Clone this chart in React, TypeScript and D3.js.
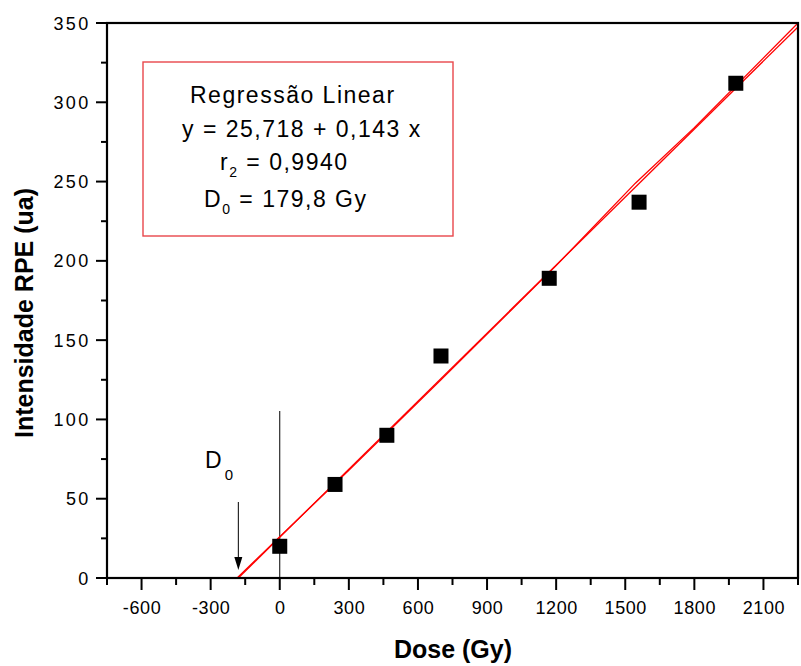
import React from "react";
import * as d3 from "d3";

const doses = [0, 240, 465, 700, 1170, 1560, 1980];
const intensities = [20, 59, 90, 140, 189, 237, 312];
const fitIntercept = 25.718;
const fitSlope = 0.143;
const fitStart = -179.8;
const fitEnd = 2250;
const traceX = [-185, 0, 300, 700, 1200, 1544, 1800, 2250];
const traceY = [0, 26, 68, 125, 197, 249, 284, 350];
const xTicksMajor = [-600, -300, 0, 300, 600, 900, 1200, 1500, 1800, 2100];
const xTickLabels = ["-600", "-300", "0", "300", "600", "900", "1200", "1500", "1800", "2100"];
const yTicksMajor = [0, 50, 100, 150, 200, 250, 300, 350];
const boxLines = ["Regressão Linear", "y = 25,718 + 0,143 x", "r", "D"];

const W = 801, H = 666;
const M = { left: 107, right: 798, top: 23, bottom: 578 };
const FONT = "'Liberation Sans', Arial, sans-serif";

export default function App() {
  const x = d3.scaleLinear().domain([-750, 2250]).range([M.left, M.right]);
  const y = d3.scaleLinear().domain([0, 350]).range([M.bottom, M.top]);
  const xMinor = d3.range(-750, 2251, 150).filter((v) => !xTicksMajor.includes(v));
  const yMinor = d3.range(25, 350, 50);
  const line = d3.line<[number, number]>().x((d) => x(d[0])).y((d) => y(d[1]));
  const fit: [number, number][] = [
    [fitStart, fitIntercept + fitSlope * fitStart],
    [fitEnd, fitIntercept + fitSlope * fitEnd],
  ];
  const trace: [number, number][] = traceX.map((v, i) => [v, traceY[i]]);
  const sq = 15;
  const d0x = x(fitStart);

  return (
    <svg width={W} height={H} style={{ position: "absolute", left: 0, top: 0, background: "#fff" }} fontFamily={FONT}>
      <rect x={0} y={0} width={W} height={H} fill="#fff" />
      {/* legend box */}
      <rect x={143} y={62} width={310} height={174} fill="none" stroke="#e8474b" strokeWidth={1.4} />
      <g fontSize={23} letterSpacing={1.5}>
        <text x={190} y={103}>{boxLines[0]}</text>
        <text x={182} y={137}>{boxLines[1]}</text>
        <text x={220} y={170}>
          {boxLines[2]}
          <tspan fontSize={14} dy={7}>2</tspan>
          <tspan dy={-7}> = 0,9940</tspan>
        </text>
        <text x={204} y={207}>
          {boxLines[3]}
          <tspan fontSize={14} dy={7}>0</tspan>
          <tspan dy={-7}> = 179,8 Gy</tspan>
        </text>
      </g>

      {/* vertical line at x=0 */}
      <line x1={x(0)} x2={x(0)} y1={411} y2={M.bottom} stroke="#000" strokeWidth={1} />
      {/* D0 arrow */}
      <line x1={d0x} x2={d0x} y1={502} y2={560} stroke="#000" strokeWidth={1} />
      <path d={`M${d0x - 4},${557} L${d0x + 4},${557} L${d0x},${570} Z`} fill="#000" />
      <text x={205} y={468} fontSize={23}>
        D<tspan fontSize={15} dx={3} dy={12}>0</tspan>
      </text>

      {/* fit lines */}
      <path d={line(trace) || ""} fill="none" stroke="#ff0000" strokeWidth={1.3} />
      <path d={line(fit) || ""} fill="none" stroke="#ff0000" strokeWidth={1.3} />

      {/* points */}
      {doses.map((d, i) => (
        <rect key={i} x={x(d) - sq / 2} y={y(intensities[i]) - sq / 2} width={sq} height={sq} fill="#000" />
      ))}

      {/* frame */}
      <rect x={M.left} y={M.top} width={M.right - M.left} height={M.bottom - M.top} fill="none" stroke="#000" strokeWidth={2.2} />

      {/* x ticks */}
      {xTicksMajor.map((v, i) => (
        <g key={"xt" + v}>
          <line x1={x(v)} x2={x(v)} y1={M.bottom} y2={M.bottom + 12} stroke="#000" strokeWidth={2} />
          <text x={x(v) + 0.5} y={614} fontSize={18} letterSpacing={0.6} textAnchor="middle">{xTickLabels[i]}</text>
        </g>
      ))}
      {xMinor.map((v) => (
        <line key={"xm" + v} x1={x(v)} x2={x(v)} y1={M.bottom} y2={M.bottom + 7} stroke="#000" strokeWidth={2} />
      ))}
      {/* y ticks */}
      {yTicksMajor.map((v) => (
        <g key={"yt" + v}>
          <line x1={M.left - 11} x2={M.left} y1={y(v)} y2={y(v)} stroke="#000" strokeWidth={2} />
          <text x={90.5} y={y(v) + 6.5} fontSize={18} letterSpacing={2.3} textAnchor="end">{v}</text>
        </g>
      ))}
      {yMinor.map((v) => (
        <line key={"ym" + v} x1={M.left - 6} x2={M.left} y1={y(v)} y2={y(v)} stroke="#000" strokeWidth={2} />
      ))}

      {/* axis titles */}
      <text x={453} y={658} fontSize={25} fontWeight="bold" textAnchor="middle">Dose (Gy)</text>
      <text transform="translate(33,313) rotate(-90)" fontSize={25} fontWeight="bold" textAnchor="middle">Intensidade RPE (ua)</text>
    </svg>
  );
}
